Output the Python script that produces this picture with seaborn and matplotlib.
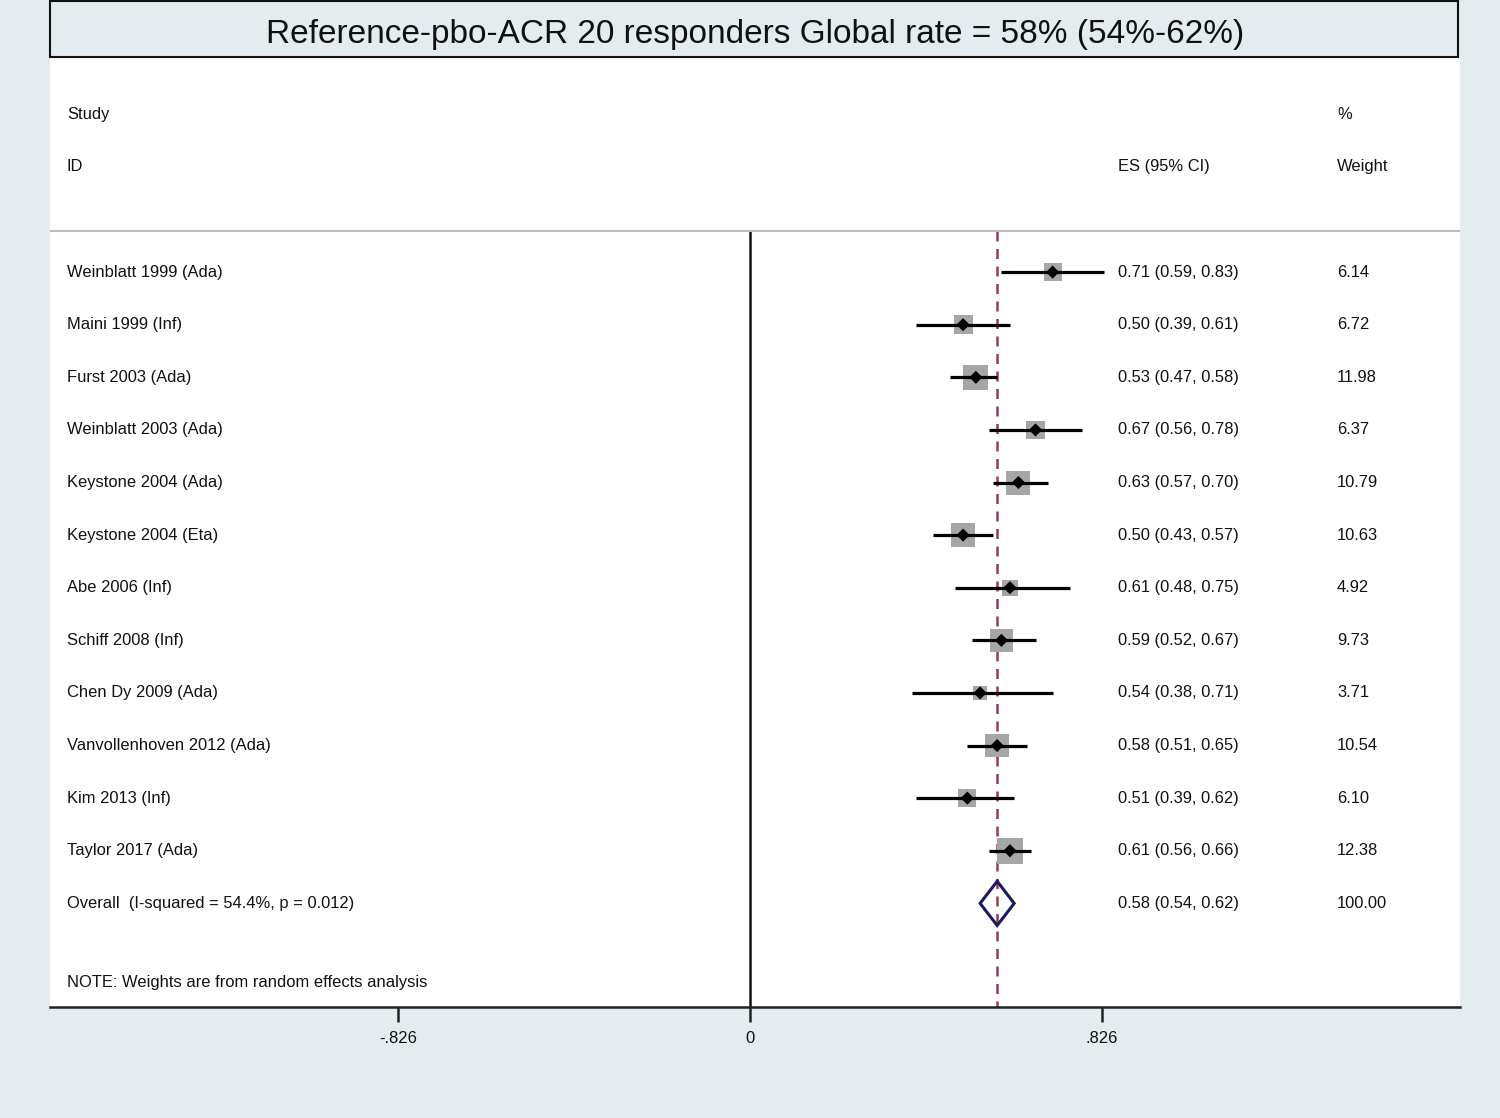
import pandas as pd
import numpy as np
import seaborn as sns
import matplotlib.pyplot as plt
from matplotlib.patches import Rectangle, Polygon

# study data
studies = ['Weinblatt 1999 (Ada)', 'Maini 1999 (Inf)', 'Furst 2003 (Ada)', 'Weinblatt 2003 (Ada)',
           'Keystone 2004 (Ada)', 'Keystone 2004 (Eta)', 'Abe 2006 (Inf)', 'Schiff 2008 (Inf)',
           'Chen Dy 2009 (Ada)', 'Vanvollenhoven 2012 (Ada)', 'Kim 2013 (Inf)', 'Taylor 2017 (Ada)']
es = [0.71, 0.50, 0.53, 0.67, 0.63, 0.50, 0.61, 0.59, 0.54, 0.58, 0.51, 0.61]
lo = [0.59, 0.39, 0.47, 0.56, 0.57, 0.43, 0.48, 0.52, 0.38, 0.51, 0.39, 0.56]
hi = [0.83, 0.61, 0.58, 0.78, 0.70, 0.57, 0.75, 0.67, 0.71, 0.65, 0.62, 0.66]
weight = [6.14, 6.72, 11.98, 6.37, 10.79, 10.63, 4.92, 9.73, 3.71, 10.54, 6.10, 12.38]

overall_label = 'Overall  (I-squared = 54.4%, p = 0.012)'
overall_es, overall_lo, overall_hi = 0.58, 0.54, 0.62
overall_w = 100.00

tick_vals = [-0.826, 0, 0.826]
tick_labels = ['-.826', '0', '.826']

df = pd.DataFrame({'study': studies, 'es': es, 'lo': lo, 'hi': hi, 'weight': weight})
df['row'] = np.arange(len(df))
n = len(df)

sns.set_style('white')
plt.rcParams['font.family'] = ['Liberation Sans', 'DejaVu Sans']
plt.rcParams['text.color'] = '#111111'
plt.rcParams['xtick.color'] = '#111111'

bg = '#e4ecf0'
fig = plt.figure(figsize=(15, 11.18), dpi=100, facecolor=bg)
W, H = 1500, 1118
# axes = white panel (pixels 50..1460 x, 58..1007 y)
ax = fig.add_axes([50 / W, 1 - 1007 / H, 1410 / W, (1007 - 58) / H])
ax.set_facecolor('white')

# title box
fig.patches.append(Rectangle((50 / W, 1 - 57 / H), 1408 / W, 56 / H, transform=fig.transFigure,
                             facecolor=bg, edgecolor='#111111', linewidth=1.5))
fig.text(755 / W, 1 - 35 / H, 'Reference-pbo-ACR 20 responders Global rate = 58% (54%-62%)',
         ha='center', va='center', fontsize=24, color='#111111')

top_line = -0.78
# reference lines
ax.vlines(0, top_line, 14, color='#111111', linewidth=1.8)
ax.vlines(overall_es, top_line, 14, color='#9b3a4a', linewidth=1.8, linestyles=(0, (4, 3)))
ax.axhline(top_line, color='#bbbbbb', linewidth=1.5)

# CI lines
ax.hlines(df['row'], df['lo'], df['hi'], color='black', linewidth=2.3, zorder=3)
# weight squares
sns.scatterplot(data=df, x='es', y='row', size='weight', sizes=(0, 2760), size_norm=(0, 100),
                marker='s', color='#a6a6a6', edgecolor='none', legend=False, ax=ax, zorder=2)
# point estimates
sns.scatterplot(data=df, x='es', y='row', marker='D', color='black', s=45, edgecolor='none',
                legend=False, ax=ax, zorder=4)

# overall diamond
dh = 0.42
ax.add_patch(Polygon([(overall_lo, n), (overall_es, n - dh), (overall_hi, n), (overall_es, n + dh)],
                     closed=True, facecolor='none', edgecolor='#1c1a66', linewidth=2.2, zorder=5))

# text columns
fs = 11.9
tx = ax.get_yaxis_transform()
col_study, col_es, col_w = 17 / 1410, 1068 / 1410, 1287 / 1410
ax.text(col_study, -3, 'Study', transform=tx, fontsize=fs, va='center')
ax.text(col_study, -2, 'ID', transform=tx, fontsize=fs, va='center')
ax.text(col_es, -2, 'ES (95% CI)', transform=tx, fontsize=fs, va='center')
ax.text(col_w, -3, '%', transform=tx, fontsize=fs, va='center')
ax.text(col_w, -2, 'Weight', transform=tx, fontsize=fs, va='center')
for _, r in df.iterrows():
    ax.text(col_study, r['row'], r['study'], transform=tx, fontsize=fs, va='center')
    ax.text(col_es, r['row'], f"{r['es']:.2f} ({r['lo']:.2f}, {r['hi']:.2f})", transform=tx,
            fontsize=fs, va='center')
    ax.text(col_w, r['row'], f"{r['weight']:.2f}", transform=tx, fontsize=fs, va='center')
ax.text(col_study, n, overall_label, transform=tx, fontsize=fs, va='center')
ax.text(col_es, n, f"{overall_es:.2f} ({overall_lo:.2f}, {overall_hi:.2f})", transform=tx,
        fontsize=fs, va='center')
ax.text(col_w, n, f"{overall_w:.2f}", transform=tx, fontsize=fs, va='center')
ax.text(col_study, 13.5, 'NOTE: Weights are from random effects analysis', transform=tx,
        fontsize=fs, va='center')

# axes scales: 0.826 units = 352 px
ax.set_xlim(-1.6426, 1.6661)
ax.set_ylim(13.97, -4.07)
ax.set_xticks(tick_vals)
ax.set_xticklabels(tick_labels, fontsize=12)
ax.set_yticks([])
ax.set_xlabel('')
ax.set_ylabel('')
ax.tick_params(axis='x', direction='out', length=11, width=1.8, color='#222222', pad=6, bottom=True)
for s in ['top', 'left', 'right']:
    ax.spines[s].set_visible(False)
ax.spines['bottom'].set_linewidth(1.8)
ax.spines['bottom'].set_color('#222222')

fig.savefig('out.png', dpi=100, facecolor=bg)
